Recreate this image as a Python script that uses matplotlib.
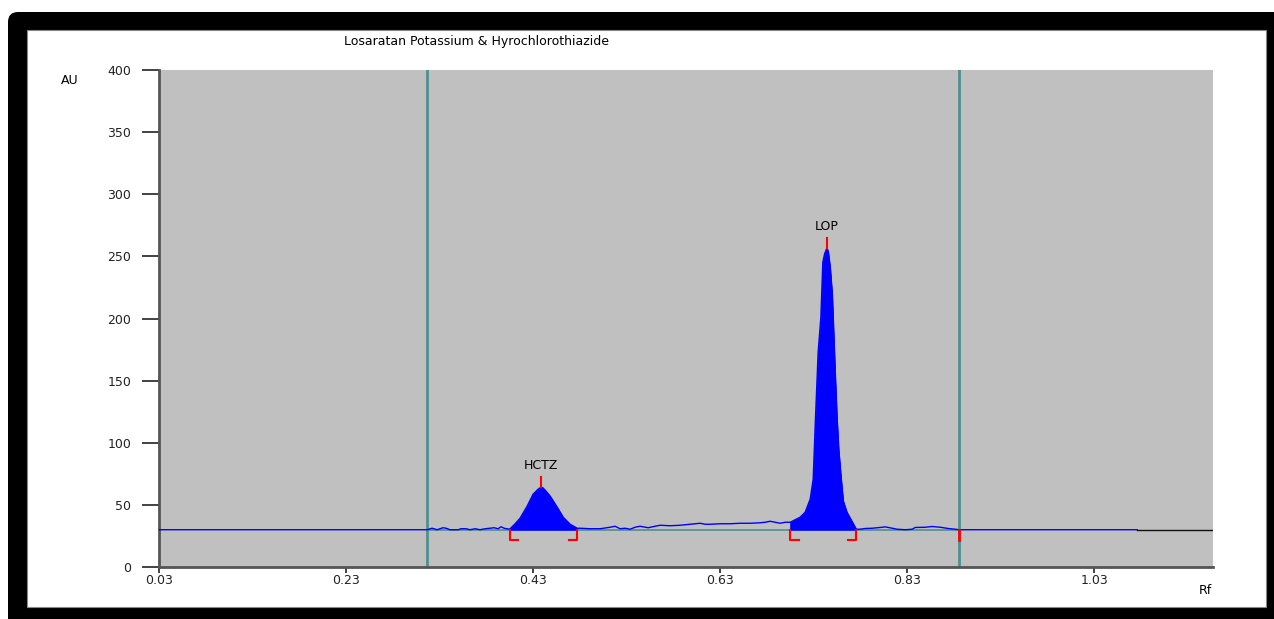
import matplotlib
matplotlib.use("Agg")
import matplotlib.pyplot as plt
from matplotlib.patches import FancyBboxPatch, Rectangle
import numpy as np

plt.rcParams['font.family'] = ['DejaVu Sans']

# densitogram trace, Rf vs AU
rf_trace = [0.03, 0.3166,
            0.3220, 0.3273, 0.3305, 0.3337, 0.3370, 0.3412, 0.3498, 0.3530, 0.3583,
            0.3626, 0.3680, 0.3733, 0.3787, 0.3840, 0.3883, 0.3926, 0.3958, 0.3990,
            0.4049, 0.4103, 0.4161, 0.4236, 0.4300, 0.4354, 0.4383, 0.4400, 0.4429,
            0.4482, 0.4557, 0.4621, 0.4696, 0.4771,
            0.4803, 0.4910, 0.5017, 0.5124, 0.5177, 0.5230, 0.5284, 0.5337, 0.5391,
            0.5444, 0.5530, 0.5605, 0.5658, 0.5765, 0.5872, 0.5979, 0.6033, 0.6086,
            0.6139, 0.6193, 0.6300, 0.6407, 0.6514, 0.6621, 0.6728, 0.6782, 0.6835,
            0.6889, 0.6942, 0.6995,
            0.7049, 0.7156, 0.7209, 0.7263, 0.7295, 0.7316, 0.7348, 0.7377, 0.7398,
            0.7417, 0.7441, 0.7455, 0.7476, 0.7498, 0.7530, 0.7548, 0.7567, 0.7591,
            0.7616, 0.7655, 0.7709, 0.7755,
            0.7797, 0.7851, 0.7926, 0.8011, 0.8065, 0.8140, 0.8193, 0.8279, 0.8353,
            0.8386, 0.8493, 0.8567, 0.8653, 0.8738, 0.8813, 0.8856,
            1.076]
au_trace = [30.0, 30.0,
            31.2, 30.0, 30.8, 31.6, 31.2, 30.0, 30.0, 30.8, 30.8,
            30.0, 30.8, 30.0, 30.8, 31.2, 31.6, 30.8, 32.4, 31.2,
            30.4, 34.4, 39.3, 48.9, 58.6, 62.6, 64.2, 64.0, 61.8,
            57.0, 48.1, 40.1, 34.4, 31.2,
            31.2, 30.8, 30.8, 32.0, 32.8, 30.8, 31.2, 30.4, 32.0,
            32.8, 31.6, 32.8, 33.6, 33.2, 33.6, 34.4, 34.8, 35.2,
            34.4, 34.4, 34.8, 34.8, 35.2, 35.2, 35.6, 36.0, 36.8,
            36.0, 35.2, 36.0,
            36.0, 40.1, 44.1, 54.6, 70.7, 113.3, 172.9, 201.0, 245.3,
            252.0, 256.6, 254.0, 241.3, 219.6, 155.2, 121.4, 94.8, 73.1,
            53.0, 44.1, 36.8, 30.4,
            30.4, 31.0, 31.2, 31.8, 32.3, 31.2, 30.4, 30.0, 30.4,
            31.8, 32.0, 32.6, 32.0, 31.0, 30.4, 30.0,
            30.0]

baseline_au = 30.0
rf_end = 1.157
track_start, track_end = 0.3166, 0.8856

peak_names = ["HCTZ", "LOP"]
peak_start = [0.4049, 0.7049]
peak_end = [0.4771, 0.7755]
peak_rf = [0.4383, 0.7441]
peak_au = [64.2, 256.6]

rf_ticks = [0.03, 0.23, 0.43, 0.63, 0.83, 1.03]
au_ticks = [0, 50, 100, 150, 200, 250, 300, 350, 400]

W, H, DPI = 1274, 619, 100
fig = plt.figure(figsize=(W / DPI, H / DPI), dpi=DPI)
fig.patch.set_facecolor("white")

# black window frame with white panel inside (inches from bottom-left)
fig.add_artist(FancyBboxPatch((0.18, -0.5), 13.0, 5.97 + 0.5,
                              boxstyle="round,pad=0.1", transform=fig.dpi_scale_trans,
                              facecolor="black", edgecolor="none", zorder=-5))
fig.add_artist(Rectangle((6.0, 5.0), 7.0, 1.07, transform=fig.dpi_scale_trans,
                         facecolor="black", edgecolor="none", zorder=-5))
fig.add_artist(Rectangle((0.27, 0.12), 12.66 - 0.27, 5.89 - 0.12,
                         transform=fig.dpi_scale_trans, facecolor="white",
                         edgecolor="#888888", linewidth=0.8, zorder=-4))

ax = fig.add_axes([159 / W, 52 / H, 1054 / W, 497 / H])
ax.set_facecolor("#c0c0c0")
ax.set_xlim(0.03, rf_end)
ax.set_ylim(0, 400)

rf = np.array(rf_trace)
au = np.array(au_trace)

# integration baseline and track limits
teal = "#4f8f8f"
ax.plot([track_start, track_end], [baseline_au, baseline_au], color=teal, lw=1.2, zorder=2)
for x in (track_start, track_end):
    ax.axvline(x, color=teal, lw=2, zorder=2)

# filled peaks
for s, e in zip(peak_start, peak_end):
    m = (rf >= s - 1e-6) & (rf <= e + 1e-6)
    ax.fill_between(rf[m], baseline_au, au[m], facecolor="#0000ff",
                    edgecolor="#0000ff", lw=0.6, zorder=3)

ax.plot(rf, au, color="#0000ff", lw=1.0, zorder=4)
ax.plot([rf_trace[-1], rf_end], [baseline_au, baseline_au], color="#111111", lw=1.0, zorder=4)

# peak markers and integration brackets
red = "#ff0000"
foot = 0.009
low = 21.5
for name, s, e, px, py in zip(peak_names, peak_start, peak_end, peak_rf, peak_au):
    ax.plot([px, px], [py, py + 8.5], color=red, lw=1.5, zorder=5)
    ax.text(px, py + 12, name, ha="center", va="bottom", fontsize=9, zorder=6)
    ax.plot([s, s, s + foot], [baseline_au, low, low], color=red, lw=1.5, zorder=5)
    ax.plot([e - foot, e, e], [low, low, baseline_au], color=red, lw=1.5, zorder=5)
ax.plot([track_end, track_end], [baseline_au, low], color=red, lw=2, zorder=5)

ax.set_xticks(rf_ticks)
ax.set_xticklabels([f"{t:.2f}" for t in rf_ticks])
ax.set_yticks(au_ticks)
ax.tick_params(axis="y", length=12, width=1.2, pad=8, labelsize=9, colors="#222222")
ax.tick_params(axis="x", length=4, width=1.2, pad=1, labelsize=9, colors="#222222")
for side in ("top", "right"):
    ax.spines[side].set_visible(False)
for side in ("left", "bottom"):
    ax.spines[side].set_color("#555555")
    ax.spines[side].set_linewidth(2)

fig.text(476 / W, 1 - 42 / H, "Losaratan Potassium & Hyrochlorothiazide",
         ha="center", va="center", fontsize=9)
fig.text(70 / W, 1 - 81 / H, "AU", ha="center", va="center", fontsize=9)
fig.text(1205 / W, 1 - 590 / H, "Rf", ha="center", va="center", fontsize=9)

fig.savefig("out.png", dpi=DPI)
